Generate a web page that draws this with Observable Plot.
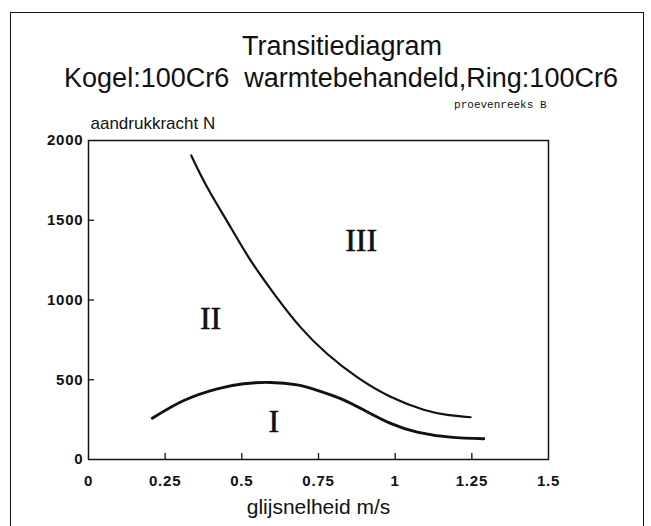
<!DOCTYPE html>
<html>
<head>
<meta charset="utf-8">
<script src="https://cdn.jsdelivr.net/npm/d3@7"></script>
<script src="https://cdn.jsdelivr.net/npm/@observablehq/plot@0.6"></script>
<style>
  html, body { margin: 0; padding: 0; background: #fff; overflow: hidden; }
  #wrap { position: relative; width: 651px; height: 526px; overflow: hidden; background: #fff; }
  #frame { position: absolute; left: 10px; top: 12px; width: 632px; height: 600px; border: 1.6px solid #111; pointer-events: none; }
  #header { display: block; }
  #chart svg { display: block; }
</style>
</head>
<body>
<div id="wrap">
  <div id="header"></div>
  <div id="chart"></div>
  <div id="frame"></div>
</div>
<script>
// ---- Data ----
const titleLines = ["Transitiediagram", "Kogel:100Cr6  warmtebehandeld,Ring:100Cr6"];
const seriesNote = "proevenreeks B";
const yAxisTitle = "aandrukkracht N";
const xAxisTitle = "glijsnelheid m/s";

const xTicks = [0, 0.25, 0.5, 0.75, 1, 1.25, 1.5];
const xTickLabels = ["0", "0.25", "0.5", "0.75", "1", "1.25", "1.5"];
const yTicks = [0, 500, 1000, 1500, 2000];
const yTickLabels = ["0", "500", "1000", "1500", "2000"];

// boundary II / III
const upperX = [0.335, 0.387, 0.463, 0.528, 0.604, 0.691, 0.778, 0.876, 0.985, 1.093, 1.170, 1.246];
const upperY = [1906, 1707, 1458, 1250, 1042, 830, 663, 516, 393, 312, 280, 265];
// boundary I / II
const lowerX = [0.208, 0.311, 0.420, 0.506, 0.593, 0.680, 0.746, 0.822, 0.898, 0.985, 1.072, 1.180, 1.289];
const lowerY = [259, 370, 443, 475, 483, 468, 434, 382, 310, 226, 172, 140, 130];

// region labels
const regionNames = ["I", "II", "III"];
const regionX = [0.604, 0.398, 0.889];
const regionY = [234, 882, 1373];

// ---- Build tables ----
const upper = upperX.map((x, i) => ({x, y: upperY[i]}));
const lower = lowerX.map((x, i) => ({x, y: lowerY[i]}));
const regions = regionNames.map((name, i) => ({name, x: regionX[i], y: regionY[i]}));
const xLab = new Map(xTicks.map((t, i) => [t, xTickLabels[i]]));
const yLab = new Map(yTicks.map((t, i) => [t, yTickLabels[i]]));

// ---- Header (title) ----
const headerH = 100;
const hs = d3.select("#header").append("svg")
  .attr("width", 651).attr("height", headerH)
  .style("display", "block");
hs.append("text").attr("x", 342).attr("y", 55).attr("text-anchor", "middle")
  .attr("font-family", "Liberation Sans, Arial, sans-serif").attr("font-size", 27)
  .attr("fill", "#111").text(titleLines[0]);
hs.append("text").attr("x", 341).attr("y", 87).attr("text-anchor", "middle")
  .attr("font-family", "Liberation Sans, Arial, sans-serif").attr("font-size", 27)
  .attr("fill", "#111").style("white-space", "pre").attr("xml:space", "preserve")
  .text(titleLines[1]);

// ---- Plot ----
const W = 651, H = 526 - headerH;
const chart = Plot.plot({
  width: W,
  height: H,
  marginLeft: 88,
  marginRight: 103,
  marginTop: 40,
  marginBottom: 67,
  style: {fontFamily: "Liberation Sans, Arial, sans-serif", fontSize: "15px", color: "#111", background: "#fff"},
  x: {domain: [0, 1.5]},
  y: {domain: [0, 2000]},
  marks: [
    Plot.frame({stroke: "#111", strokeWidth: 1.5}),
    // tick labels
    Plot.axisX({ticks: xTicks, tickSize: 0, tickPadding: 16, tickFormat: d => xLab.get(d), label: null, fill: "#111", fontWeight: "bold", fontSize: 15}),
    Plot.axisY({ticks: yTicks, tickSize: 0, tickPadding: 5, tickFormat: d => yLab.get(d), label: null, fill: "#111", fontWeight: "bold", fontSize: 15}),
    // inward ticks
    Plot.axisX({ticks: xTicks.slice(1, -1), tickSize: -6, text: null, label: null, stroke: "#111", strokeWidth: 1.3}),
    Plot.axisY({ticks: yTicks.slice(1, -1), tickSize: -6, text: null, label: null, stroke: "#111", strokeWidth: 1.3}),
    // curves
    Plot.line(upper, {x: "x", y: "y", curve: "natural", stroke: "#111", strokeWidth: 2.2}),
    Plot.line(lower, {x: "x", y: "y", curve: "natural", stroke: "#111", strokeWidth: 2.9}),
    // region labels
    Plot.text(regions, {x: "x", y: "y", text: "name", fontFamily: "Liberation Serif, Times New Roman, serif", fontSize: 32, fill: "#111", lineAnchor: "middle", stroke: "#111", strokeWidth: 0.6}),
    // axis titles and note
    Plot.text([yAxisTitle], {frameAnchor: "top-left", text: d => d, textAnchor: "start", lineAnchor: "bottom", dx: 2, dy: -12, fontSize: 17, fill: "#111"}),
    Plot.text([seriesNote], {frameAnchor: "top-right", text: d => d, textAnchor: "end", lineAnchor: "bottom", dx: -2, dy: -33, fontSize: 11, fontFamily: "Liberation Mono, Courier New, monospace", fill: "#111"}),
    Plot.text([xAxisTitle], {frameAnchor: "bottom", text: d => d, textAnchor: "middle", lineAnchor: "bottom", dy: 54, fontSize: 21, fill: "#111"})
  ]
});
document.getElementById("chart").appendChild(chart);

// letter spacing tweaks for the scanned look
d3.select(chart).selectAll("g[aria-label='x-axis tick label'] text, g[aria-label='y-axis tick label'] text")
  .style("letter-spacing", "0.8px");
</script>
</body>
</html>
